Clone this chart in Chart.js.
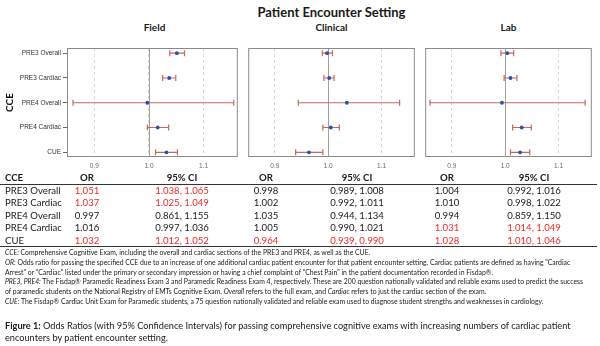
<!DOCTYPE html>
<html>
<head>
<meta charset="utf-8">
<script src="https://cdn.jsdelivr.net/npm/chart.js@4.4.1/dist/chart.umd.min.js"></script>
<style>
  body { margin: 0; width: 600px; height: 346px; background: #fff; position: relative; overflow: hidden;
         font-family: Lato, "Open Sans", sans-serif; color: #1a1a1a; }
  .abs { position: absolute; white-space: nowrap; }
  .title { font-weight: bold; font-size: 13px; left: 67px; width: 529px; text-align: center; top: 4px; }
  .ptitle { font-weight: bold; font-size: 10px; top: 21px; text-align: center; }
  .panel { position: absolute; top: 38px; }
  .cell { position: absolute; font-size: 9.6px; line-height: 12px; transform: translateX(-50%); }
  .cell.left { transform: none; }
  .hdr { font-weight: bold; }
  .sig { color: #f02a2a; }
  .rule { position: absolute; left: 0; width: 597px; height: 1px; background: #333; }
  .note { font-size: 6.85px; line-height: 9.8px; left: 5px; top: 248px; }
  .note i { font-style: italic; }
  .caption { font-size: 9.2px; line-height: 12px; left: 5px; top: 320px; }
</style>
</head>
<body>
<div class="abs title">Patient Encounter Setting</div>
<div class="abs ptitle" style="left:67px;width:175px">Field</div>
<div class="abs ptitle" style="left:244px;width:175px">Clinical</div>
<div class="abs ptitle" style="left:421px;width:175px">Lab</div>

<div class="panel" style="left:0;width:243px;height:138px"><canvas id="field" width="243" height="138"></canvas></div>
<div class="panel" style="left:243px;width:177px;height:138px"><canvas id="clinical" width="177" height="138"></canvas></div>
<div class="panel" style="left:420px;width:177px;height:138px"><canvas id="lab" width="177" height="138"></canvas></div>

<div id="table"></div>

<div class="abs note">
<i>CCE:</i> Comprehensive Cognitive Exam, including the overall and cardiac sections of the PRE3 and PRE4, as well as the CUE.<br>
<i>OR:</i> Odds ratio for passing the specified CCE due to an increase of one additional cardiac patient encounter for that patient encounter setting. Cardiac patients are defined as having "Cardiac<br>
Arrest" or "Cardiac" listed under the primary or secondary impression or having a chief complaint of "Chest Pain" in the patient documentation recorded in Fisdap®.<br>
<i>PRE3, PRE4:</i> The Fisdap® Paramedic Readiness Exam 3 and Paramedic Readiness Exam 4, respectively. These are 200 question nationally validated and reliable exams used to predict the success<br>
of paramedic students on the National Registry of EMTs Cognitive Exam. <i>Overall</i> refers to the full exam, and <i>Cardiac</i> refers to just the cardiac section of the exam.<br>
<i>CUE:</i> The Fisdap® Cardiac Unit Exam for Paramedic students, a 75 question nationally validated and reliable exam used to diagnose student strengths and weaknesses in cardiology.
</div>

<div class="abs caption"><b>Figure 1:</b> Odds Ratios (with 95% Confidence Intervals) for passing comprehensive cognitive exams with increasing numbers of cardiac patient<br>encounters by patient encounter setting.</div>

<script>
// exams, top to bottom
const categories = ['PRE3 Overall', 'PRE3 Cardiac', 'PRE4 Overall', 'PRE4 Cardiac', 'CUE'];
const xTicks = [0.9, 1.0, 1.1];

const fieldOR = [1.051, 1.037, 0.997, 1.016, 1.032];
const fieldLo = [1.038, 1.025, 0.861, 0.997, 1.012];
const fieldHi = [1.065, 1.049, 1.155, 1.036, 1.052];

const clinicalOR = [0.998, 1.002, 1.035, 1.005, 0.964];
const clinicalLo = [0.989, 0.992, 0.944, 0.990, 0.939];
const clinicalHi = [1.008, 1.011, 1.134, 1.021, 0.990];

const labOR = [1.004, 1.010, 0.994, 1.031, 1.028];
const labLo = [0.992, 0.998, 0.859, 1.014, 1.010];
const labHi = [1.016, 1.022, 1.150, 1.049, 1.046];

const CI_COLOR = '#c9675f';
const DOT_COLOR = '#2b4fae';

Chart.defaults.font.family = '"Liberation Sans", Arial, sans-serif';
Chart.defaults.animation = false;

// box round the plot area plus the solid reference line at OR = 1
const framePlugin = {
    id: 'frame',
    beforeDatasetsDraw(chart) {
        const { ctx, chartArea } = chart;
        const x = Math.round(chart.scales.x.getPixelForValue(1.0)) + 0.5;
        ctx.save();
        ctx.strokeStyle = '#a0a0a0';
        ctx.lineWidth = 1;
        ctx.beginPath();
        ctx.moveTo(x, chartArea.top);
        ctx.lineTo(x, chartArea.bottom);
        ctx.stroke();
        ctx.restore();
    },
    afterDraw(chart) {
        const { ctx, chartArea } = chart;
        ctx.save();
        ctx.strokeStyle = '#8a8a8a';
        ctx.lineWidth = 1;
        ctx.strokeRect(chartArea.left + 0.5, chartArea.top + 0.5,
                       chartArea.right - chartArea.left - 1, chartArea.bottom - chartArea.top - 1);
        ctx.restore();
    }
};

function makePanel(id, or, lo, hi, showY) {
    const datasets = [];
    categories.forEach((c, i) => {
        datasets.push({
            type: 'line',
            order: 1,
            data: [{ x: lo[i], y: i }, { x: hi[i], y: i }],
            showLine: true,
            borderColor: CI_COLOR,
            borderWidth: 1.2,
            pointStyle: 'line',
            rotation: 90,
            pointRadius: 3,
            pointBorderColor: CI_COLOR,
            pointBorderWidth: 1.2
        });
    });
    datasets.push({
        type: 'scatter',
        order: 0,
        data: or.map((v, i) => ({ x: v, y: i })),
        pointRadius: 1.9,
        pointBackgroundColor: DOT_COLOR,
        pointBorderColor: DOT_COLOR,
        pointBorderWidth: 0
    });

    new Chart(document.getElementById(id), {
        type: 'scatter',
        data: { datasets },
        options: {
            responsive: false,
            layout: { padding: { top: 10, right: 1, left: showY ? 0 : 1, bottom: 0 } },
            plugins: { legend: { display: false }, tooltip: { enabled: false } },
            scales: {
                x: {
                    type: 'linear',
                    min: 0.85,
                    max: 1.1625,
                    afterBuildTicks: s => { s.ticks = xTicks.map(v => ({ value: v })); },
                    afterFit: s => { s.height = 19; },
                    ticks: {
                        color: '#666',
                        font: { size: 6.5 },
                        padding: 5,
                        callback: v => v.toFixed(1)
                    },
                    grid: { color: '#d6d6d6', drawTicks: false, lineWidth: 1 },
                    border: { display: false, dash: [3, 3] }
                },
                y: {
                    type: 'linear',
                    reverse: true,
                    min: -0.21,
                    max: 4.19,
                    display: showY,
                    afterBuildTicks: s => { s.ticks = categories.map((c, i) => ({ value: i })); },
                    afterFit: s => { s.width = showY ? 67 : 0; },
                    ticks: {
                        color: '#333',
                        font: { size: 6.5 },
                        padding: 2,
                        callback: v => categories[v]
                    },
                    grid: { drawOnChartArea: false, tickLength: 4, color: '#666' },
                    border: { display: false },
                    title: {
                        display: true,
                        text: 'CCE',
                        color: '#111',
                        font: { size: 10, weight: 'bold', family: 'Lato, sans-serif' },
                        padding: { top: 4, bottom: 0 }
                    }
                }
            }
        },
        plugins: [framePlugin]
    });
}

makePanel('field', fieldOR, fieldLo, fieldHi, true);
makePanel('clinical', clinicalOR, clinicalLo, clinicalHi, false);
makePanel('lab', labOR, labLo, labHi, false);

// table under the panels, built from the same arrays
const table = document.getElementById('table');
const settings = [
    { or: fieldOR, lo: fieldLo, hi: fieldHi, orX: 87, ciX: 182 },
    { or: clinicalOR, lo: clinicalLo, hi: clinicalHi, orX: 266, ciX: 357 },
    { or: labOR, lo: labLo, hi: labHi, orX: 447, ciX: 534 }
];
const top0 = 172, rowH = 12.4;

function cell(text, x, y, cls) {
    const d = document.createElement('div');
    d.className = 'cell ' + (cls || '');
    d.style.left = x + 'px';
    d.style.top = y + 'px';
    d.textContent = text;
    table.appendChild(d);
}

cell('CCE', 5, top0, 'left hdr');
settings.forEach(s => {
    cell('OR', s.orX, top0, 'hdr');
    cell('95% CI', s.ciX, top0, 'hdr');
});
categories.forEach((c, i) => {
    const y = top0 + 13 + i * rowH;
    cell(c, 5, y, 'left');
    settings.forEach(s => {
        const sig = s.lo[i] > 1 || s.hi[i] < 1 ? 'sig' : '';
        cell(s.or[i].toFixed(3), s.orX, y, sig);
        cell(s.lo[i].toFixed(3) + ', ' + s.hi[i].toFixed(3), s.ciX, y, sig);
    });
});
[184, 246].forEach(y => {
    const r = document.createElement('div');
    r.className = 'rule';
    r.style.top = y + 'px';
    table.appendChild(r);
});
</script>
</body>
</html>
